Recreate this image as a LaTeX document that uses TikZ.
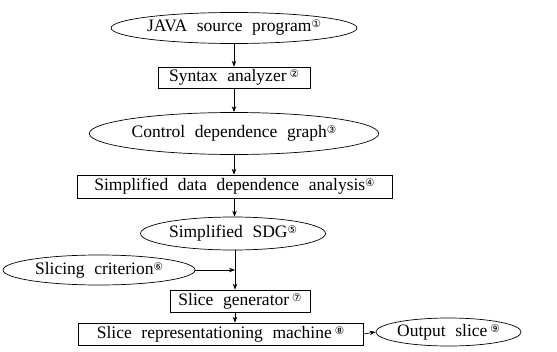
\documentclass[tikz,border=0pt]{standalone}
\usepackage{fontspec}
\setmainfont{Liberation Serif}
\newfontfamily\dejavu{DejaVu Sans}
\usetikzlibrary{shapes.geometric,arrows.meta}
\newcommand{\cnum}[1]{\raisebox{0.5ex}{\fontsize{10.5}{10.5}\selectfont\dejavu #1}}
\newcommand{\widesp}{\fontsize{17.5}{17.5}\selectfont\spaceskip=0.55em plus 0.1em\relax}
\tikzset{
  base/.style={font=\widesp, inner sep=0pt, line width=0.7pt},
  oval/.style={base, draw, ellipse},
  rect/.style={base, draw, rectangle},
  arr/.style={line width=0.7pt, -{Stealth[length=6pt,width=4.5pt]}},
  ln/.style={line width=0.7pt}
}
\begin{document}
\begin{tikzpicture}[x=1pt,y=-1pt]
\useasboundingbox (0,0) rectangle (557,351);
\node[oval, minimum width=230pt, minimum height=31pt] (e1) at (234,28) {JAVA source program\cnum{①}};
\node[rect, minimum width=152pt, minimum height=21pt] (b2) at (234,77.5) {Syntax analyzer\,\cnum{②}};
\node[oval, minimum width=248pt, minimum height=42pt] (e3) at (234,133.5) {Control dependence graph\cnum{③}};
\node[rect, minimum width=315pt, minimum height=23pt] (b4) at (234.5,186.5) {Simplified data dependence analysis\cnum{④}};
\node[oval, minimum width=185pt, minimum height=33pt] (e5) at (233,233.5) {Simplified SDG\cnum{⑤}};
\node[oval, minimum width=192pt, minimum height=30pt] (e6) at (99,270) {Slicing criterion\cnum{⑥}};
\node[rect, minimum width=140pt, minimum height=22pt] (b7) at (240,301) {Slice generator\,\cnum{⑦}};
\node[rect, minimum width=285pt, minimum height=22pt] (b8) at (220.5,334) {Slice representationing machine\,\cnum{⑧}};
\node[oval, minimum width=133pt, minimum height=28pt] (e9) at (448.5,332) {Output slice\,\cnum{⑨}};
\coordinate (j) at (235,270);
\draw[arr] (e1.south) -- (e1.south |- b2.north);
\draw[arr] (b2.south) -- (b2.south |- e3.north);
\draw[arr] (e3.south) -- (e3.south |- b4.north);
\draw[arr] (b4.south) -- (b4.south |- e5.north);
\draw[arr] (e6.east) -- (j);
\draw[arr] (j |- e5.south) -- (j |- b7.north);
\draw[arr] (j |- b7.south) -- (j |- b8.north);
\draw[arr] (b8.east) -- (e9.west);
\end{tikzpicture}
\end{document}
